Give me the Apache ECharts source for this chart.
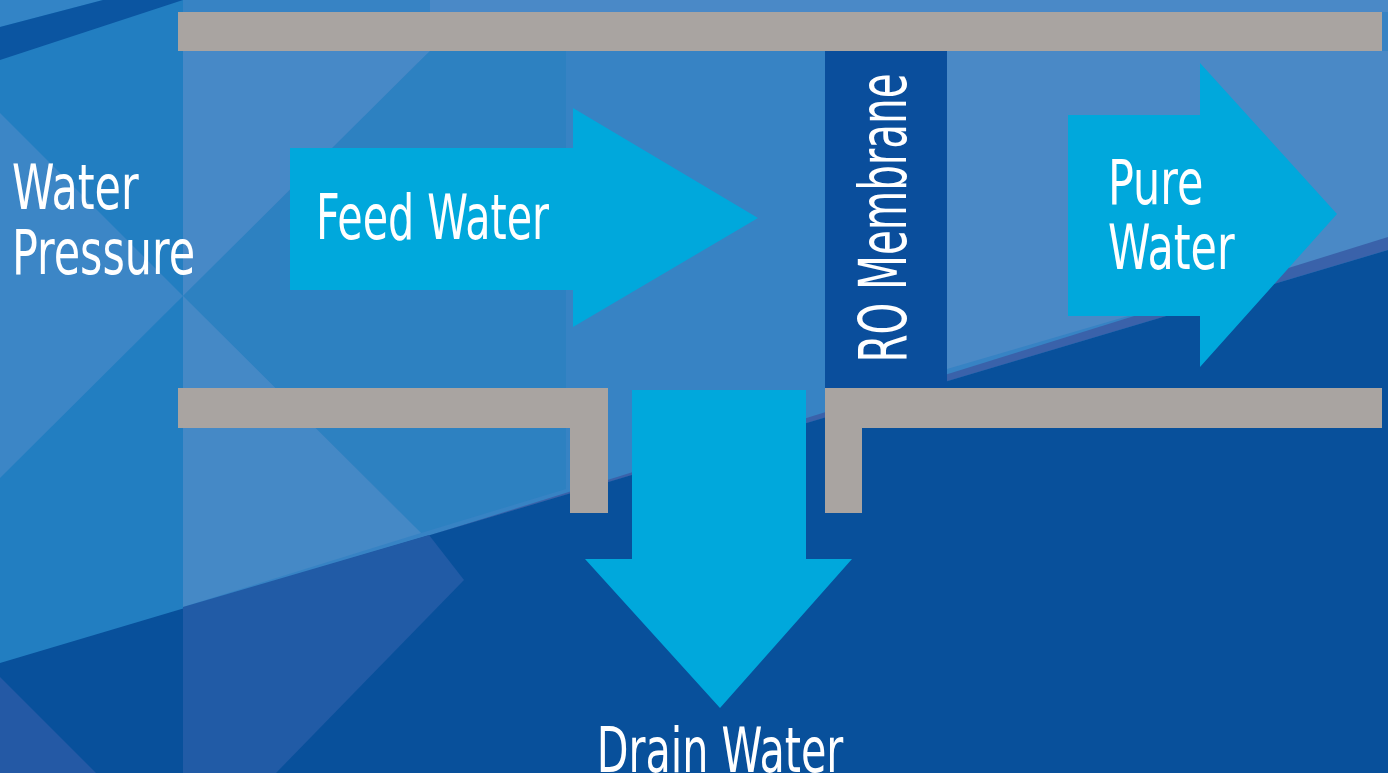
<!DOCTYPE html>
<html>
<head>
<meta charset="utf-8">
<script src="https://cdn.jsdelivr.net/npm/echarts@6/dist/echarts.min.js"></script>
<style>
html,body{margin:0;padding:0;background:#3783c4;overflow:hidden}
#chart{width:1388px;height:773px}
</style>
</head>
<body>
<div id="chart"></div>
<script>
// ---- diagram content (diagram coordinate space 0..1388 x 0..773) ----
const backgroundShapes = [
  [[0,0],[1388,0],[1388,773],[0,773]],
  [[0,0],[183,0],[183,773],[0,773]],
  [[0,113],[183,296],[0,478]],
  [[183,51],[430,51],[183,296]],
  [[183,296],[430,51],[566,51],[566,489],[421,533]],
  [[183,296],[421,533],[183,607]],
  [[0,0],[103,0],[0,27]],
  [[0,27],[103,0],[183,0],[0,60]],
  [[430,0],[1388,0],[1388,12],[430,12]],
  [[947,51],[1388,51],[1388,240],[947,369]],
  [[421,538],[1388,237],[1388,250]],
  [[0,663],[1388,250],[1388,773],[0,773]],
  [[183,607],[429,535],[464,580],[276,773],[183,773]],
  [[0,677],[96,773],[0,773]]
];
const backgroundTones = ['#3783c4','#227ec1','#3c86c6','#4789c7','#2d81c1','#4589c6','#3384c6','#0b55a1','#4a89c7','#4a89c6','#3a62aa','#08509b','#215ba6','#2459a5'];

const pipes = [
  [178,12,1382,51],
  [178,388,608,428],
  [570,388,608,513],
  [825,388,1382,428],
  [825,388,862,513]
];
const membranes = [[825,51,947,388]];

const arrows = [
  [[290,148],[573,148],[573,108],[758,218],[573,327],[573,290],[290,290]],
  [[1068,115],[1200,115],[1200,63],[1337,214],[1200,367],[1200,316],[1068,316]],
  [[632,390],[806,390],[806,559],[852,559],[720,708],[585,559],[632,559]]
];

const labelTexts = ['Water','Pressure','Feed Water','Pure','Water','Drain Water','RO Membrane'];
const labelAnchors = [[12,193],[12,258],[316,223],[1108,188],[1108,253],[720,756],[889,218]];
const labelAlign = ['left','left','left','left','left','center','center'];
const labelRotate = [0,0,0,0,0,0,90];
const labelSize = [62,62,62,62,62,62,66];
const labelSquash = [0.77,0.77,0.74,0.77,0.77,0.74,0.68];

// ---- styles ----
const PIPE = '#a9a4a1';
const MEMBRANE = '#0a4e9c';
const ARROW = '#00a8dc';
const TEXT = '#ffffff';
const FONT = '"DejaVu Sans Condensed","DejaVu Sans",sans-serif';

const chart = echarts.init(document.getElementById('chart'), null, {renderer:'canvas'});

function idxData(arr){ return arr.map((_, i) => [i, i]); }

function polygonRender(shapes, colorFn) {
  return function (params, api) {
    const pts = shapes[params.dataIndex].map(p => api.coord(p));
    return {type:'polygon', shape:{points:pts}, style:{fill: colorFn(params.dataIndex)}, silent:true};
  };
}
function rectRender(rects, color) {
  return function (params, api) {
    const r = rects[params.dataIndex];
    const a = api.coord([r[0], r[1]]);
    const b = api.coord([r[2], r[3]]);
    return {type:'rect', shape:{x:Math.min(a[0],b[0]), y:Math.min(a[1],b[1]), width:Math.abs(b[0]-a[0]), height:Math.abs(b[1]-a[1])}, style:{fill:color}, silent:true};
  };
}
function textRender(params, api) {
  const i = params.dataIndex;
  const p = api.coord(labelAnchors[i]);
  return {
    type:'text', x:p[0], y:p[1],
    rotation: labelRotate[i] * Math.PI / 180,
    scaleX: labelSquash[i], scaleY: 1,
    style:{text: labelTexts[i], fill: TEXT, fontSize: labelSize[i], fontFamily: FONT,
           align: labelAlign[i], verticalAlign:'middle'},
    silent:true
  };
}

const option = {
  animation:false,
  backgroundColor:'#3783c4',
  grid:{left:0,right:0,top:0,bottom:0,containLabel:false},
  xAxis:{type:'value', min:0, max:1388, show:false},
  yAxis:{type:'value', min:0, max:773, inverse:true, show:false},
  tooltip:{show:false},
  series:[
    {type:'custom', name:'background', coordinateSystem:'cartesian2d', data: idxData(backgroundShapes),
     renderItem: polygonRender(backgroundShapes, i => backgroundTones[i]), clip:false, z:1},
    {type:'custom', name:'pipes', coordinateSystem:'cartesian2d', data: idxData(pipes),
     renderItem: rectRender(pipes, PIPE), clip:false, z:2},
    {type:'custom', name:'membrane', coordinateSystem:'cartesian2d', data: idxData(membranes),
     renderItem: rectRender(membranes, MEMBRANE), clip:false, z:3},
    {type:'custom', name:'flows', coordinateSystem:'cartesian2d', data: idxData(arrows),
     renderItem: polygonRender(arrows, () => ARROW), clip:false, z:4},
    {type:'custom', name:'labels', coordinateSystem:'cartesian2d', data: idxData(labelTexts),
     renderItem: textRender, clip:false, z:5}
  ]
};
chart.setOption(option);
</script>
</body>
</html>
